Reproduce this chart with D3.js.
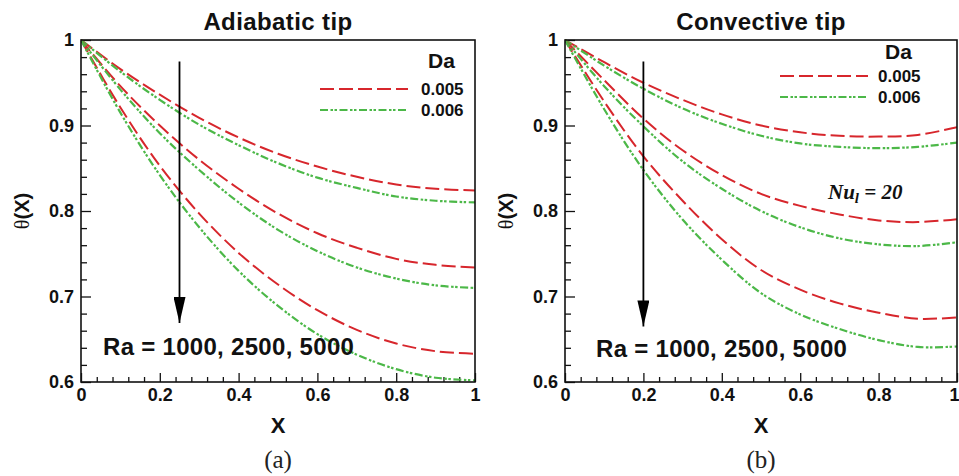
<!DOCTYPE html>
<html lang="en">
<head>
<meta charset="UTF-8"/>
<title>Fin temperature profiles</title>
<script src="https://d3js.org/d3.v7.min.js"></script>
<style>
    body { margin: 0; background: #fff; }
    svg text { font-family: "Liberation Sans", Arial, Helvetica, sans-serif; }
</style>
</head>
<body>
<script>
    // x positions shared by every curve
    var xGrid = [0, 0.1, 0.2, 0.3, 0.4, 0.5, 0.6, 0.7, 0.8, 0.9, 1];

    // (a) adiabatic tip, theta(X)
    var adiRa1000Da005 = [1, 0.966, 0.936, 0.909, 0.886, 0.867, 0.852, 0.840, 0.831, 0.826, 0.824];
    var adiRa1000Da006 = [1, 0.963, 0.930, 0.901, 0.877, 0.856, 0.839, 0.827, 0.817, 0.812, 0.810];
    var adiRa2500Da005 = [1, 0.946, 0.900, 0.860, 0.826, 0.797, 0.774, 0.757, 0.744, 0.737, 0.734];
    var adiRa2500Da006 = [1, 0.942, 0.891, 0.848, 0.810, 0.778, 0.753, 0.734, 0.721, 0.713, 0.710];
    var adiRa5000Da005 = [1, 0.921, 0.853, 0.797, 0.751, 0.714, 0.684, 0.661, 0.645, 0.636, 0.633];
    var adiRa5000Da006 = [1, 0.915, 0.842, 0.781, 0.730, 0.689, 0.656, 0.632, 0.615, 0.605, 0.602];

    // (b) convective tip, Nu_l = 20
    var conRa1000Da005 = [1, 0.974, 0.950, 0.930, 0.913, 0.900, 0.892, 0.888, 0.887, 0.889, 0.898];
    var conRa1000Da006 = [1, 0.970, 0.943, 0.920, 0.902, 0.888, 0.879, 0.875, 0.8735, 0.875, 0.880];
    var conRa2500Da005 = [1, 0.953, 0.908, 0.871, 0.842, 0.820, 0.806, 0.796, 0.789, 0.787, 0.7905];
    var conRa2500Da006 = [1, 0.946, 0.899, 0.858, 0.826, 0.800, 0.781, 0.768, 0.761, 0.759, 0.7635];
    var conRa5000Da005 = [1, 0.928, 0.864, 0.812, 0.767, 0.731, 0.708, 0.692, 0.681, 0.674, 0.6755];
    var conRa5000Da006 = [1, 0.919, 0.848, 0.790, 0.743, 0.704, 0.679, 0.662, 0.649, 0.641, 0.6415];

    var daLabels = ["0.005", "0.006"];
    var xTicks = [0, 0.2, 0.4, 0.6, 0.8, 1];
    var yTicks = [0.6, 0.7, 0.8, 0.9, 1];
    var raText = "Ra = 1000, 2500, 5000";

    var w = 959, h = 476;
    var red = "#d7262c", green = "#4cb848";
    var dashRed = "14,5";
    var dashGreen = "8,2.5,2.5,1.5,2.5,2.5";

    var panels = [
        {
            title: "Adiabatic tip", tag: "(a)",
            left: 81, right: 475, top: 40, bottom: 382,
            series: [
                [adiRa1000Da005, 0], [adiRa1000Da006, 1],
                [adiRa2500Da005, 0], [adiRa2500Da006, 1],
                [adiRa5000Da005, 0], [adiRa5000Da006, 1]
            ],
            arrowX: 0.25, arrowTop: 0.975, arrowTip: 0.669,
            raX: 103, raY: 355,
            leg: {x1: 320, x2: 408, textX: 421, daX: 428, daY: 68, rows: [89, 110], textY: [95, 116]},
            ylabX: 22
        },
        {
            title: "Convective tip", tag: "(b)",
            left: 565, right: 957, top: 40, bottom: 382,
            series: [
                [conRa1000Da005, 0], [conRa1000Da006, 1],
                [conRa2500Da005, 0], [conRa2500Da006, 1],
                [conRa5000Da005, 0], [conRa5000Da006, 1]
            ],
            arrowX: 0.2, arrowTop: 0.975, arrowTip: 0.665,
            raX: 596, raY: 357,
            leg: {x1: 780, x2: 868, textX: 878, daX: 885, daY: 59, rows: [76, 97], textY: [82, 103]},
            ylabX: 506,
            nu: true
        }
    ];

    var svg = d3.select("body")
        .append("svg")
        .attr("width", w)
        .attr("height", h);

    svg.append("defs").append("marker")
        .attr("id", "head")
        .attr("viewBox", "0 0 12 26")
        .attr("refX", 6)
        .attr("refY", 26)
        .attr("markerWidth", 12)
        .attr("markerHeight", 26)
        .attr("markerUnits", "userSpaceOnUse")
        .attr("orient", "0")
        .append("path")
        .attr("d", "M0,0 L12,0 L6,26 Z")
        .attr("fill", "black");

    panels.forEach(function(p, pi) {
        var xScale = d3.scaleLinear().domain([0, 1]).range([p.left, p.right]);
        var yScale = d3.scaleLinear().domain([0.6, 1]).range([p.bottom, p.top]);
        var g = svg.append("g");

        // clip
        svg.select("defs").append("clipPath")
            .attr("id", "clip" + pi)
            .append("rect")
            .attr("x", p.left).attr("y", p.top - 2)
            .attr("width", p.right - p.left).attr("height", p.bottom - p.top + 2);

        // minor ticks
        var xMinor = d3.range(0, 1.0001, 0.04).filter(function(v) { return Math.abs(v * 5 - Math.round(v * 5)) > 1e-6; });
        var yMinor = d3.range(0.6, 1.0001, 0.02).filter(function(v) { return Math.abs(v * 10 - Math.round(v * 10)) > 1e-6; });

        g.append("g")
            .attr("transform", "translate(0," + p.bottom + ")")
            .call(d3.axisBottom(xScale).tickValues(xMinor).tickFormat("").tickSize(-5))
            .call(function(s) { s.select(".domain").remove(); });
        g.append("g")
            .attr("transform", "translate(" + p.left + ",0)")
            .call(d3.axisLeft(yScale).tickValues(yMinor).tickFormat("").tickSize(-6))
            .call(function(s) { s.select(".domain").remove(); });

        // major ticks with labels
        var xAxis = g.append("g")
            .attr("transform", "translate(0," + p.bottom + ")")
            .call(d3.axisBottom(xScale).tickValues(xTicks).tickFormat(d3.format("")).tickSize(-9).tickPadding(6));
        xAxis.select(".domain").remove();
        xAxis.selectAll("text")
            .attr("font-size", "18px").attr("font-weight", "bold")
            .attr("font-family", "Liberation Sans, Arial, sans-serif")
            .attr("fill", "#111")
            .attr("dx", function(d) { return (pi === 1 && d === 1) ? -3 : 0; });

        var yAxis = g.append("g")
            .attr("transform", "translate(" + p.left + ",0)")
            .call(d3.axisLeft(yScale).tickValues(yTicks).tickFormat(d3.format("")).tickSize(-10).tickPadding(7));
        yAxis.select(".domain").remove();
        yAxis.selectAll("text")
            .attr("font-size", "18px").attr("font-weight", "bold")
            .attr("font-family", "Liberation Sans, Arial, sans-serif")
            .attr("fill", "#111");
        g.selectAll(".tick line").attr("stroke", "#111").attr("stroke-width", 1.3);

        // curves
        var line = d3.line()
            .x(function(d) { return xScale(d[0]); })
            .y(function(d) { return yScale(d[1]); })
            .curve(d3.curveCatmullRom.alpha(0.5));

        var curves = g.append("g").attr("clip-path", "url(#clip" + pi + ")");
        curves.selectAll("path")
            .data(p.series)
            .enter()
            .append("path")
            .attr("d", function(s) {
                return line(xGrid.map(function(x, i) { return [x, s[0][i]]; }));
            })
            .attr("fill", "none")
            .attr("stroke", function(s) { return s[1] === 0 ? red : green; })
            .attr("stroke-width", function(s) { return s[1] === 0 ? 2 : 2.2; })
            .attr("stroke-dasharray", function(s) { return s[1] === 0 ? dashRed : dashGreen; });

        // frame
        g.append("rect")
            .attr("x", p.left).attr("y", p.top)
            .attr("width", p.right - p.left).attr("height", p.bottom - p.top)
            .attr("fill", "none").attr("stroke", "#111").attr("stroke-width", 1.6);

        // arrow
        g.append("line")
            .attr("x1", xScale(p.arrowX)).attr("x2", xScale(p.arrowX))
            .attr("y1", yScale(p.arrowTop)).attr("y2", yScale(p.arrowTip))
            .attr("stroke", "black").attr("stroke-width", 1.8)
            .attr("marker-end", "url(#head)");

        g.append("text")
            .attr("x", p.raX).attr("y", p.raY)
            .attr("font-size", "24px").attr("font-weight", "bold")
            .attr("letter-spacing", "0.3px")
            .attr("fill", "#111")
            .text(raText);

        // legend
        var leg = p.leg;
        g.append("text")
            .attr("x", leg.daX).attr("y", leg.daY)
            .attr("font-size", "21px").attr("font-weight", "bold").attr("fill", "#111")
            .text("Da");
        daLabels.forEach(function(lab, i) {
            g.append("line")
                .attr("x1", leg.x1).attr("x2", leg.x2)
                .attr("y1", leg.rows[i]).attr("y2", leg.rows[i])
                .attr("stroke", i === 0 ? red : green)
                .attr("stroke-width", i === 0 ? 2 : 2.2)
                .attr("stroke-dasharray", i === 0 ? dashRed : dashGreen);
            g.append("text")
                .attr("x", leg.textX).attr("y", leg.textY[i])
                .attr("font-size", "17px").attr("font-weight", "bold").attr("fill", "#111")
                .text(lab);
        });

        // titles and labels
        var cx = (p.left + p.right) / 2;
        g.append("text")
            .attr("x", cx).attr("y", 30)
            .attr("text-anchor", "middle")
            .attr("font-size", "24px").attr("font-weight", "bold").attr("fill", "#111")
            .attr("letter-spacing", "0.4px")
            .text(p.title);

        g.append("text")
            .attr("x", cx).attr("y", 433)
            .attr("text-anchor", "middle")
            .attr("font-size", "22px").attr("font-weight", "bold").attr("fill", "#111")
            .text("X");

        g.append("text")
            .attr("x", cx).attr("y", 468)
            .attr("text-anchor", "middle")
            .attr("font-size", "25px")
            .style("font-family", "Liberation Serif, Times New Roman, serif")
            .attr("fill", "#222")
            .text(p.tag);

        var yl = g.append("text")
            .attr("transform", "translate(" + (p.ylabX + 7) + ",211) rotate(-90)")
            .attr("text-anchor", "middle")
            .attr("fill", "#111");
        yl.append("tspan")
            .style("font-family", "Liberation Serif, Times New Roman, serif")
            .attr("font-size", "20px")
            .text("θ");
        yl.append("tspan")
            .attr("font-size", "20px").attr("font-weight", "bold")
            .text("(X)");

        if (p.nu) {
            var nu = g.append("text")
                .attr("x", 828).attr("y", 199)
                .style("font-family", "Liberation Serif, Times New Roman, serif")
                .attr("font-style", "italic").attr("font-weight", "bold")
                .attr("font-size", "21px").attr("fill", "#111");
            nu.append("tspan").text("Nu");
            nu.append("tspan").attr("font-size", "15px").attr("dy", 4).text("l");
            nu.append("tspan").attr("dy", -4).text(" = 20");
        }
    });
</script>
</body>
</html>
